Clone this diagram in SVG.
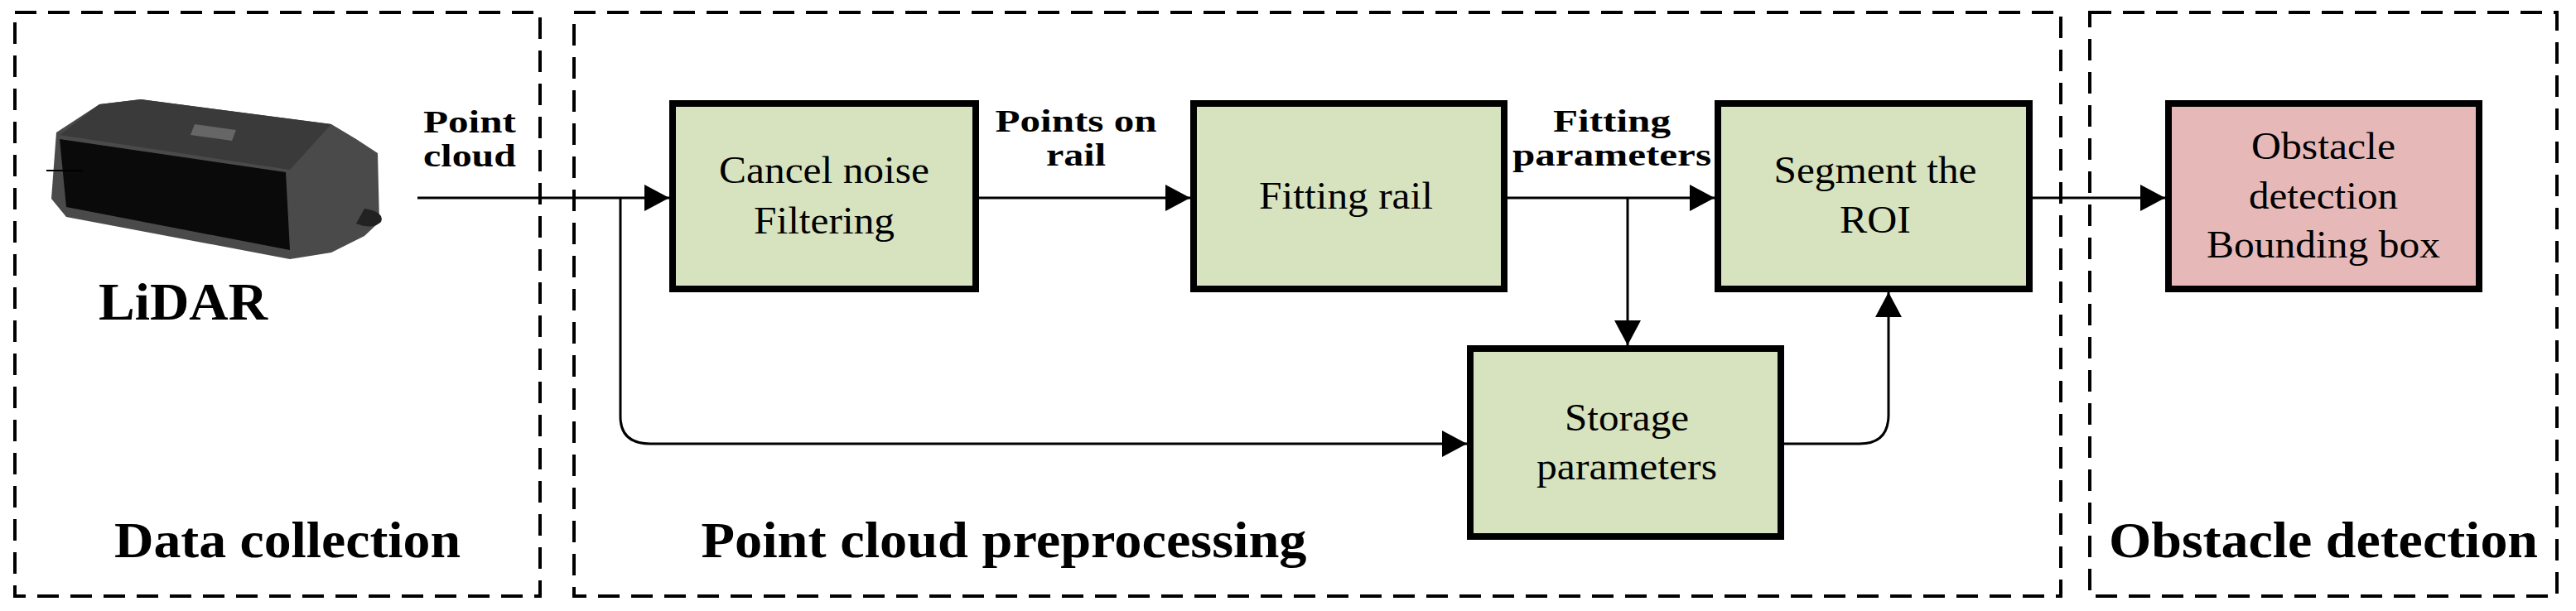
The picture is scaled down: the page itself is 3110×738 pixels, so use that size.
<svg xmlns="http://www.w3.org/2000/svg" width="3110" height="738" viewBox="0 0 3110 738">
<style>
.grp{fill:none;stroke:#000;stroke-width:4;stroke-dasharray:26 14}
.node{stroke:#000;stroke-width:8}
.g{fill:#d7e3bf}.p{fill:#e6b9b8}
.t{font-family:"Liberation Serif",serif;font-size:46px;text-anchor:middle;fill:#000}
.b{font-family:"Liberation Serif",serif;font-weight:bold;text-anchor:middle;fill:#000}
.c{fill:none;stroke:#000;stroke-width:3}
</style>
<defs>
<marker id="ar" markerUnits="userSpaceOnUse" markerWidth="30" markerHeight="32" refX="30" refY="16" orient="auto">
<path d="M0,0 L30,16 L0,32 Z" fill="#000"/>
</marker>
</defs>
<rect width="3110" height="738" fill="#fff"/>
<g id="groups">
<rect class="grp" x="18" y="15" width="634" height="705"/>
<rect class="grp" x="693" y="15" width="1795" height="705"/>
<rect class="grp" x="2523" y="15" width="564" height="705"/>
<text class="b" x="347" y="673" font-size="62" textLength="418" lengthAdjust="spacingAndGlyphs">Data collection</text>
<text class="b" x="1212" y="673" font-size="62" textLength="731" lengthAdjust="spacingAndGlyphs">Point cloud preprocessing</text>
<text class="b" x="2805" y="673" font-size="62" textLength="518" lengthAdjust="spacingAndGlyphs">Obstacle detection</text>
</g>
<g id="lidar">
<path d="M68,160 L120,126 L170,120 L400,150 L430,168 L456,185 L458,268 L440,285 L400,305 L350,313 L80,262 L62,240 Z" fill="#4a4a4a"/>
<path d="M170,120 L400,150 L350,205 L72,163 L120,126 Z" fill="#3a3a3a"/>
<path d="M235,150 L285,157 L280,170 L230,163 Z" fill="#666"/>
<path d="M72,168 L345,208 L350,302 L80,250 Z" fill="#0a0a0a"/>
<path d="M440,252 Q465,256 460,268 Q450,278 430,270 Z" fill="#222"/>
<line x1="56" y1="206" x2="100" y2="206" stroke="#000" stroke-width="2"/>
<text class="b" x="221" y="386" font-size="64" textLength="204" lengthAdjust="spacingAndGlyphs">LiDAR</text>
</g>
<g id="n1"><rect class="node g" x="812" y="125" width="366" height="224"/>
<text class="t" x="995" y="221" textLength="254" lengthAdjust="spacingAndGlyphs">Cancel noise</text>
<text class="t" x="995" y="282" textLength="170" lengthAdjust="spacingAndGlyphs">Filtering</text></g>
<g id="n2"><rect class="node g" x="1441" y="125" width="375" height="224"/>
<text class="t" x="1625" y="252" textLength="210" lengthAdjust="spacingAndGlyphs">Fitting rail</text></g>
<g id="n3"><rect class="node g" x="2074" y="125" width="376" height="224"/>
<text class="t" x="2264" y="221" textLength="245" lengthAdjust="spacingAndGlyphs">Segment the</text>
<text class="t" x="2264" y="281" textLength="86" lengthAdjust="spacingAndGlyphs">ROI</text></g>
<g id="n4"><rect class="node p" x="2618" y="125" width="375" height="224"/>
<text class="t" x="2805" y="192" textLength="174" lengthAdjust="spacingAndGlyphs">Obstacle</text>
<text class="t" x="2805" y="252" textLength="180" lengthAdjust="spacingAndGlyphs">detection</text>
<text class="t" x="2805" y="311" textLength="282" lengthAdjust="spacingAndGlyphs">Bounding box</text></g>
<g id="n5"><rect class="node g" x="1775" y="421" width="375" height="227"/>
<text class="t" x="1964" y="520" textLength="150" lengthAdjust="spacingAndGlyphs">Storage</text>
<text class="t" x="1964" y="579" textLength="218" lengthAdjust="spacingAndGlyphs">parameters</text></g>
<g id="connectors">
<path class="c" d="M504,239 L808,239" marker-end="url(#ar)"/>
<path class="c" d="M749,239 L749,503 Q749,536 785,536 L1771,536" marker-end="url(#ar)"/>
<path class="c" d="M1182,239 L1437,239" marker-end="url(#ar)"/>
<path class="c" d="M1820,239 L2070,239" marker-end="url(#ar)"/>
<path class="c" d="M1965,239 L1965,417" marker-end="url(#ar)"/>
<path class="c" d="M2154,536 L2245,536 Q2280,536 2280,501 L2280,353" marker-end="url(#ar)"/>
<path class="c" d="M2454,239 L2614,239" marker-end="url(#ar)"/>
<text class="b" x="567" y="160" font-size="38" textLength="112" lengthAdjust="spacingAndGlyphs">Point</text>
<text class="b" x="567" y="201" font-size="38" textLength="112" lengthAdjust="spacingAndGlyphs">cloud</text>
<text class="b" x="1299" y="159" font-size="38" textLength="195" lengthAdjust="spacingAndGlyphs">Points on</text>
<text class="b" x="1299" y="200" font-size="38" textLength="72" lengthAdjust="spacingAndGlyphs">rail</text>
<text class="b" x="1946" y="159" font-size="38" textLength="142" lengthAdjust="spacingAndGlyphs">Fitting</text>
<text class="b" x="1946" y="200" font-size="38" textLength="240" lengthAdjust="spacingAndGlyphs">parameters</text>
</g>
</svg>
